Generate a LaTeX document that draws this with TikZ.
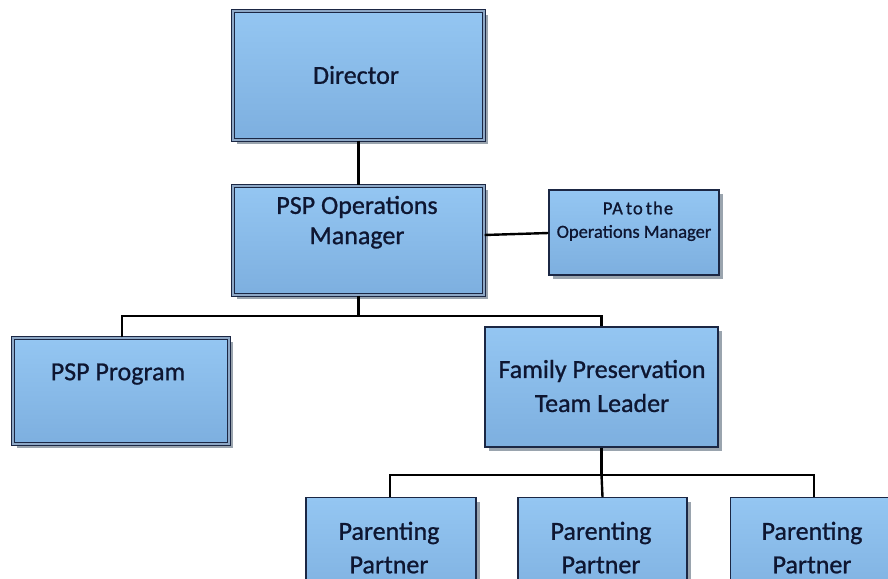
\documentclass[tikz,border=0pt]{standalone}
\usepackage{fontspec}
\setmainfont{Carlito}
\newfontfamily\boxfont[FakeBold=0.9]{Carlito}
\usetikzlibrary{shadows}
\definecolor{navy}{HTML}{1B2744}
\definecolor{txtc}{HTML}{0E1631}
\definecolor{topb}{HTML}{94C6F2}
\definecolor{botb}{HTML}{7DAFDF}
\definecolor{gapc}{HTML}{8EA8C6}
\definecolor{shad}{HTML}{9AA4AE}
\tikzset{
  x=1pt, y=-1pt,
  box/.style={draw=navy, line width=1.3pt, top color=topb, bottom color=botb,
    inner sep=0pt, drop shadow={shadow xshift=4pt, shadow yshift=-4pt, fill=shad, opacity=1}},
  dbox/.style={box, double=gapc, double distance=2.4pt, line width=1.1pt},
  txt/.style={text=txtc, font=\boxfont\fontsize{26}{30}\selectfont, align=center, inner sep=0pt},
  small/.style={text=txtc, font=\boxfont\fontsize{18.5}{22}\selectfont, align=center, inner sep=0pt},
  conn/.style={draw=black, line width=2.4pt}
}
\begin{document}
\begin{tikzpicture}
\useasboundingbox (0,0) rectangle (888,578);
\begin{scope}
\clip (0,0) rectangle (888,578);
% boxes
\node[dbox, minimum width=251pt, minimum height=129pt] (dir) at (358.5,75.5) {};
\node[txt] (dirt) at (356,75) {Director};
\node[dbox, minimum width=251pt, minimum height=109pt] (ops) at (358.5,240.5) {};
\node[txt] (opst) at (357,207) {PSP Operations};
\node[txt] (opst2) at (357,238) {Manager};
\node[box, minimum width=170pt, minimum height=85pt] (pa) at (634,232.5) {};
\node[small] (pat) at (638,208) {\addfontfeature{LetterSpace=6}PA\hspace{3pt}to\hspace{3pt}the};
\node[small] (pat2) at (634,233) {Operations Manager};
\node[dbox, minimum width=216pt, minimum height=106pt] (psp) at (121,391) {};
\node[txt] (pspt) at (118,374) {PSP Program};
\node[box, minimum width=233pt, minimum height=120pt] (fpt) at (601.5,387) {};
\node[txt] (fptt) at (602,371) {Family Preservation};
\node[txt] (fptt2) at (602,403) {Team Leader};
\node[box, minimum width=170pt, minimum height=110pt, anchor=north] (pp1) at (391,497) {};
\node[txt] (pp1t) at (389,533) {Parenting};
\node[txt] (pp1t2) at (389,565) {Partner};
\node[box, minimum width=169pt, minimum height=110pt, anchor=north] (pp2) at (602.5,497) {};
\node[txt] (pp2t) at (601,533) {Parenting};
\node[txt] (pp2t2) at (601,565) {Partner};
\node[box, minimum width=170pt, minimum height=110pt, anchor=north west] (pp3) at (730,497) {};
\node[txt] (pp3t) at (812,533) {Parenting};
\node[txt] (pp3t2) at (812,565) {Partner};
% connectors
\coordinate (j1) at (358.5,316);
\coordinate (j2) at (601.5,475);
\draw[conn] (dir.south) -- (ops.north);
\draw[conn] (ops.east |- 0,235) -- (pa.west |- 0,233);
\draw[conn] (ops.south) -- (j1);
\draw[conn] (psp.north -| 122,0) -- (122,316) -- (601.5,316) -- (fpt.north);
\draw[conn] (fpt.south) -- (j2);
\draw[conn] (pp1.north -| 390,0) -- (390,475) -- (814,475) -- (814,497);
\draw[conn] (j2) -- (pp2.north);
\end{scope}
\end{tikzpicture}
\end{document}
